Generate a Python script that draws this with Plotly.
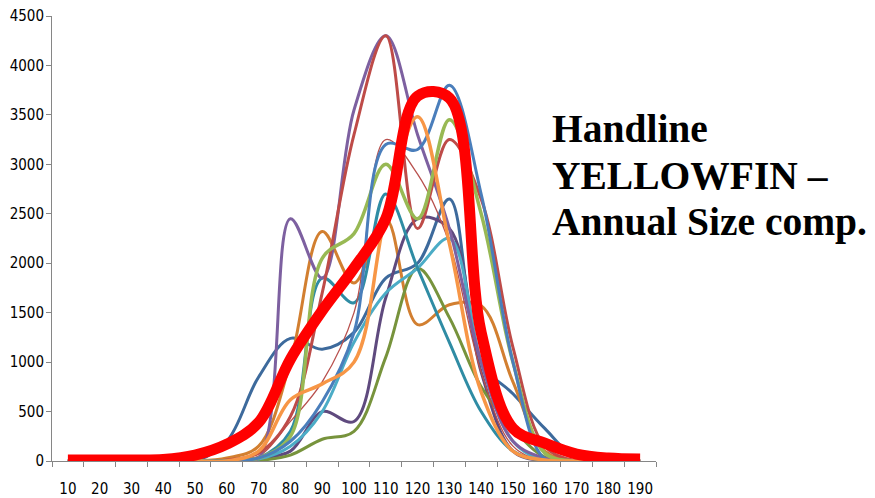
import plotly.graph_objects as go

# Size classes (cm)
sizes = [10, 20, 30, 40, 50, 60, 70, 80, 90, 100, 110, 120, 130, 140, 150, 160, 170, 180, 190]

# Annual size compositions (numbers of fish)
yr_steel   = [0, 0, 0, 0, 0, 200, 850, 1240, 1130, 1300, 1850, 2000, 2650, 1000, 680, 330, 30, 0, 0]
yr_brown   = [0, 0, 0, 0, 0, 30, 150, 1000, 2320, 1800, 2450, 1380, 1580, 1570, 800, 100, 0, 0, 0]
yr_dpurple = [0, 0, 0, 0, 0, 0, 30, 100, 500, 400, 1650, 2450, 2350, 900, 100, 0, 0, 0, 0]
yr_olive   = [0, 0, 0, 0, 0, 0, 5, 60, 220, 300, 1050, 1950, 1450, 750, 330, 40, 0, 0, 0]
yr_aqua    = [0, 0, 0, 0, 0, 0, 20, 150, 500, 1200, 1700, 1950, 2250, 1000, 200, 0, 0, 0, 0]
yr_teal    = [0, 0, 0, 0, 0, 0, 30, 300, 1850, 1600, 2700, 1950, 1200, 500, 100, 0, 0, 0, 0]
yr_thinred = [0, 0, 0, 0, 0, 0, 50, 400, 800, 1500, 3250, 2900, 2200, 900, 150, 0, 0, 0, 0]
yr_purple  = [0, 0, 0, 0, 0, 0, 30, 2450, 1850, 3550, 4300, 3300, 2350, 1000, 200, 30, 0, 0, 0]
yr_red     = [0, 0, 0, 0, 0, 10, 80, 450, 1700, 3300, 4300, 2350, 3250, 2650, 1150, 150, 0, 0, 0]
yr_green   = [0, 0, 0, 0, 0, 0, 30, 250, 2050, 2300, 3000, 2450, 3450, 2500, 1000, 80, 0, 0, 0]
yr_blue    = [0, 0, 0, 0, 0, 0, 30, 200, 600, 1300, 3200, 3150, 3800, 2700, 1000, 20, 0, 0, 0]
yr_orange  = [0, 0, 0, 0, 0, 0, 100, 620, 780, 1000, 2500, 3480, 2200, 700, 100, 10, 0, 0, 0]
average    = [10, 10, 10, 15, 60, 170, 390, 1030, 1520, 1950, 2450, 3690, 3670, 1300, 330, 180, 70, 30, 20]

series = [
    (yr_steel, "#3D6A9C", 3),
    (yr_brown, "#D27F30", 3),
    (yr_dpurple, "#5F4A7E", 3),
    (yr_olive, "#77933C", 3),
    (yr_aqua, "#4BACC6", 3),
    (yr_teal, "#2F8CA4", 3),
    (yr_thinred, "#B8504D", 1.3),
    (yr_purple, "#7D60A0", 3),
    (yr_red, "#BE4B48", 3),
    (yr_green, "#98B954", 3.5),
    (yr_blue, "#4A7EBB", 3),
    (yr_orange, "#F79646", 3.5),
]

fig = go.Figure()
for vals, col, w in series:
    fig.add_trace(go.Scatter(x=sizes, y=vals, mode="lines",
                             line=dict(color=col, width=w, shape="spline", smoothing=1),
                             showlegend=False, hoverinfo="skip"))
fig.add_trace(go.Scatter(x=sizes, y=average, mode="lines",
                         line=dict(color="#FF0000", width=11, shape="spline", smoothing=1),
                         showlegend=False, hoverinfo="skip"))

tick_font = dict(family="Liberation Sans Narrow, Arial Narrow, DejaVu Sans Condensed, sans-serif",
                 size=15, color="#000000")
bounds = [s - 5 for s in sizes] + [sizes[-1] + 5]

# page body has an 8px default margin, so the figure is 8px smaller than the window
fig.update_layout(
    width=867, height=490,
    margin=dict(l=44, r=219, t=8, b=37, autoexpand=False),
    paper_bgcolor="white", plot_bgcolor="white",
    xaxis=dict(range=[5, 195], tickmode="array", tickvals=sizes,
               ticktext=[str(s) for s in sizes], ticks="", showgrid=False,
               zeroline=False, showline=True, linecolor="#868686", linewidth=1,
               tickfont=tick_font, ticklabelstandoff=14, automargin=False,
               ticklabeloverflow="allow",
               minor=dict(tickmode="array", tickvals=bounds, ticks="outside",
                          ticklen=5, tickcolor="#868686", tickwidth=1, showgrid=False)),
    yaxis=dict(range=[0, 4500], tickmode="linear", tick0=0, dtick=500,
               ticks="outside", ticklen=5, tickcolor="#868686", showgrid=False,
               zeroline=False, showline=True, linecolor="#868686", linewidth=1,
               tickfont=tick_font, ticklabelstandoff=-1, automargin=False,
               ticklabeloverflow="allow"),
)

title_font = dict(family="Liberation Serif, Times New Roman, serif", size=39.5, color="#000000")
lines = ["<b>Handline</b>", "<b>YELLOWFIN –</b>", "<b>Annual Size comp.</b>"]
ypos = [0.746, 0.640, 0.537]
for txt, yp in zip(lines, ypos):
    fig.add_annotation(text=txt, xref="paper", yref="paper", x=0.825, y=yp,
                       xanchor="left", yanchor="middle", showarrow=False,
                       font=title_font, align="left")

fig.write_html("out.html")
